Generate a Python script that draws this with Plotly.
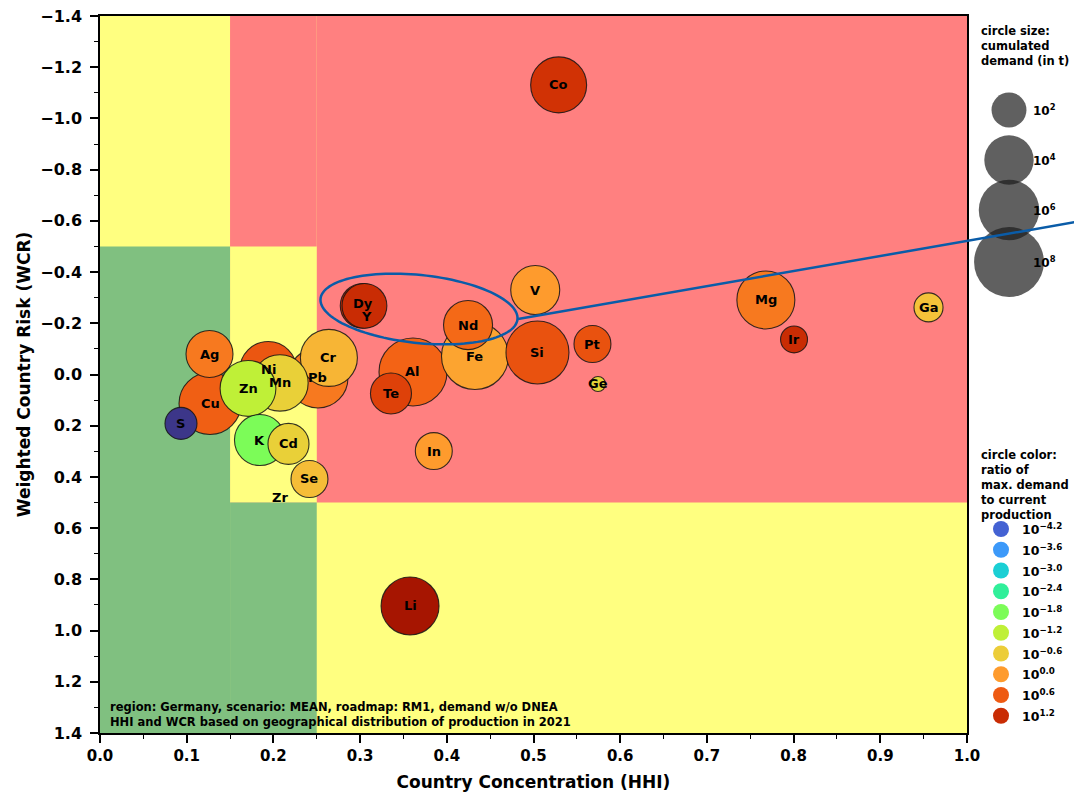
import numpy as np
import plotly.graph_objects as go

# ---------------------------------------------------------------------------
# Data: raw materials, their supply-risk coordinates, demand and demand ratio
# ---------------------------------------------------------------------------
elements = ["Co", "Dy", "Y", "V", "Nd", "Fe", "Si", "Pt", "Ge", "Al", "Te", "Mg",
            "Ir", "Ga", "Li", "In", "Ag", "Cu", "S", "Zn", "Mn", "Ni", "Pb", "Cr",
            "K", "Cd", "Se", "Zr"]
hhi = [0.529, 0.303, 0.305, 0.502, 0.4245, 0.4325, 0.5046, 0.568, 0.5744, 0.361,
       0.3356, 0.768, 0.8005, 0.9556, 0.3576, 0.385, 0.1263, 0.1269, 0.0934, 0.1707,
       0.2076, 0.194, 0.2514, 0.264, 0.1845, 0.2174, 0.2416, 0.2076]
wcr = [-1.131, -0.268, -0.268, -0.330, -0.193, -0.072, -0.086, -0.119, 0.037, -0.010,
       0.074, -0.291, -0.137, -0.262, 0.904, 0.299, -0.080, 0.113, 0.191, 0.0545,
       0.033, -0.018, 0.0135, -0.065, 0.256, 0.271, 0.408, 0.479]
# cumulated demand, log10 of tonnes
demand_log10 = [5.14, 3.3, 3.3, 3.94, 3.94, 7.36, 6.5, 2.24, 0.37, 7.58,
                2.76, 5.51, 1.19, 1.38, 5.51, 2.24, 3.62, 6.3, 1.68, 5.1,
                5.2, 5.3, 5.9, 5.33, 4.26, 2.76, 2.24, 0.0]
# ratio of max. demand to current production, log10
ratio_log10 = [1.1, 1.2, 1.2, 0.0, 0.45, -0.1, 0.7, 0.7, -0.7, 0.5,
               0.9, 0.3, 1.2, -0.45, 1.6, 0.0, 0.3, 0.55, -4.65, -1.2,
               -0.65, 0.65, 0.3, -0.3, -1.8, -0.65, -0.4, 0.0]

size_legend_exp = [2, 4, 6, 8]
color_legend_exp = [-4.2, -3.6, -3.0, -2.4, -1.8, -1.2, -0.6, 0.0, 0.6, 1.2]

x_ticks = [round(0.1 * i, 1) for i in range(11)]
y_ticks = [round(-1.4 + 0.2 * i, 1) for i in range(15)]

# ---------------------------------------------------------------------------
# Styling constants
# ---------------------------------------------------------------------------
W, H = 1074, 792
ML, MT, MB = 100, 16, 59
PW = 867                      # width of the main plotting area (px)
PH = H - MT - MB
FW = W - ML                   # width of the whole plot region incl. legend panel
X_RANGE = (0.0, 1.0)
Y_RANGE = (1.4, -1.4)         # risk axis runs downward
CMIN, CMAX = -5.0, 2.0
K_DIAM = 24.7                 # marker diameter = K * sqrt(log10 demand)

YELLOW, RED, GREEN = "#FFFF80", "#FF8080", "#80C080"
BLUE = "#0A5CA8"
FONT = "DejaVu Sans"


def diameter(logd):
    return K_DIAM * np.sqrt(np.asarray(logd, dtype=float))


def px_x(px):
    """horizontal pixel -> x data coordinate of the main axes"""
    return X_RANGE[0] + (px - ML) / PW * (X_RANGE[1] - X_RANGE[0])


def px_y(py):
    """vertical pixel -> y data coordinate of the main axes"""
    return Y_RANGE[1] + (py - MT) / PH * (Y_RANGE[0] - Y_RANGE[1])


def paper_x(px):
    return (px - ML) / FW


def paper_y(py):
    return (H - MB - py) / PH


fig = go.Figure()

# ---------------------------------------------------------------------------
# Risk zones
# ---------------------------------------------------------------------------
zones = [
    (0.0, 1.0, -1.4, 1.4, YELLOW),
    (0.15, 0.25, -1.4, 0.5, RED),
    (0.25, 1.0, -1.4, 0.5, RED),
    (0.15, 0.25, -0.5, 0.5, YELLOW),
    (0.0, 0.15, -0.5, 1.4, GREEN),
    (0.15, 0.25, 0.5, 1.4, GREEN),
]
for x0, x1, y0, y1, col in zones:
    fig.add_shape(type="rect", xref="x", yref="y", x0=x0, x1=x1, y0=y0, y1=y1,
                  fillcolor=col, line=dict(width=0), layer="below")

# ---------------------------------------------------------------------------
# Bubbles (large ones first so smaller ones stay visible)
# ---------------------------------------------------------------------------
d_all = diameter(demand_log10)
order = [i for i in np.argsort(-np.asarray(demand_log10), kind="stable") if d_all[i] > 0]
fig.add_trace(go.Scatter(
    x=[hhi[i] for i in order], y=[wcr[i] for i in order],
    mode="markers",
    marker=dict(size=[d_all[i] for i in order], sizemode="diameter",
                color=[ratio_log10[i] for i in order], colorscale="Turbo",
                cmin=CMIN, cmax=CMAX, showscale=False, opacity=1.0,
                line=dict(color="rgba(20,20,20,0.85)", width=1.1)),
    hoverinfo="skip", showlegend=False,
))

label_shift = {"Dy": (0, 2), "Y": (2, -11)}
for el, x, y in zip(elements, hhi, wcr):
    dx, dy = label_shift.get(el, (0, 0))
    fig.add_annotation(x=x, y=y, xref="x", yref="y", text=el, showarrow=False,
                       xshift=dx, yshift=dy,
                       font=dict(family=FONT, size=13, color="black", weight="bold"))

# ---------------------------------------------------------------------------
# Highlight around Dy / Y and pointer line
# ---------------------------------------------------------------------------
cx, cy = 419.0, 309.0              # centre (px)
a_px, b_px, tilt = 99.0, 34.0, np.deg2rad(6.0)
t = np.linspace(0, 2 * np.pi, 120)
ex = cx + a_px * np.cos(t) * np.cos(tilt) - b_px * np.sin(t) * np.sin(tilt)
ey = cy + a_px * np.cos(t) * np.sin(tilt) + b_px * np.sin(t) * np.cos(tilt)
path = "M " + " L ".join(f"{px_x(u):.5f},{px_y(v):.5f}" for u, v in zip(ex, ey)) + " Z"
fig.add_shape(type="path", xref="x", yref="y", path=path,
              line=dict(color=BLUE, width=2.5), fillcolor="rgba(0,0,0,0)")
fig.add_shape(type="line", xref="paper", yref="paper",
              x0=paper_x(518), y0=paper_y(319), x1=paper_x(1076), y1=paper_y(222),
              line=dict(color=BLUE, width=2.5))

# ---------------------------------------------------------------------------
# Legend panel (own pixel-scaled axes to the right of the plot)
# ---------------------------------------------------------------------------
size_leg_y = [110, 160, 210, 262]
fig.add_trace(go.Scatter(
    x=[1009] * len(size_legend_exp), y=size_leg_y, xaxis="x2", yaxis="y2",
    mode="markers",
    marker=dict(size=diameter(size_legend_exp), sizemode="diameter", opacity=1.0,
                color="rgba(28,28,28,0.7)", line=dict(width=0)),
    hoverinfo="skip", showlegend=False, cliponaxis=False,
))
for e, py in zip(size_legend_exp, size_leg_y):
    fig.add_annotation(x=paper_x(1031), y=paper_y(py), xref="paper", yref="paper",
                       xanchor="left", yanchor="middle", showarrow=False,
                       text=f"10<sup>{e}</sup>",
                       font=dict(family=FONT, size=12, color="black", weight="bold"))
fig.add_annotation(x=paper_x(979), y=paper_y(22), xref="paper", yref="paper",
                   xanchor="left", yanchor="top", align="left", showarrow=False,
                   text="circle size:<br>cumulated<br>demand (in t)",
                   font=dict(family=FONT, size=11.5, color="black", weight="bold"))

col_leg_y = [529 + 20.75 * i for i in range(len(color_legend_exp))]
fig.add_trace(go.Scatter(
    x=[1001] * len(color_legend_exp), y=col_leg_y, xaxis="x2", yaxis="y2",
    mode="markers",
    marker=dict(size=16, color=color_legend_exp, colorscale="Turbo", opacity=1.0,
                cmin=CMIN, cmax=CMAX, line=dict(width=0), showscale=False),
    hoverinfo="skip", showlegend=False, cliponaxis=False,
))
for e, py in zip(color_legend_exp, col_leg_y):
    lab = f"{e:.1f}".replace("-", "\u2212")
    fig.add_annotation(x=paper_x(1020), y=paper_y(py), xref="paper", yref="paper",
                       xanchor="left", yanchor="middle", showarrow=False,
                       text=f"10<sup>{lab}</sup>",
                       font=dict(family=FONT, size=12.5, color="black", weight="bold"))
fig.add_annotation(x=paper_x(979), y=paper_y(446), xref="paper", yref="paper",
                   xanchor="left", yanchor="top", align="left", showarrow=False,
                   text="circle color:<br>ratio of<br>max. demand<br>to current<br>production",
                   font=dict(family=FONT, size=11.5, color="black", weight="bold"))

# ---------------------------------------------------------------------------
# Scenario note
# ---------------------------------------------------------------------------
fig.add_annotation(x=paper_x(108), y=paper_y(698), xref="paper", yref="paper",
                   xanchor="left", yanchor="top", align="left", showarrow=False,
                   text="region: Germany, scenario: MEAN, roadmap: RM1, demand w/o DNEA<br>"
                        "HHI and WCR based on geographical distribution of production in 2021",
                   font=dict(family=FONT, size=11.5, color="black", weight="bold"))

# ---------------------------------------------------------------------------
# Axes & layout
# ---------------------------------------------------------------------------
main_dom = PW / FW
fig.update_layout(
    xaxis=dict(
        domain=[0, main_dom],
        range=list(X_RANGE), tickvals=x_ticks, ticktext=[f"{v:.1f}" for v in x_ticks],
        ticks="outside", ticklen=8, tickwidth=1.5, tickcolor="black",
        minor=dict(ticks="outside", ticklen=4, tickwidth=1, tickcolor="black",
                   dtick=0.05, tick0=0, showgrid=False),
        showline=True, linecolor="black", linewidth=1.5, mirror=True,
        showgrid=False, zeroline=False,
        tickfont=dict(family=FONT, size=15, color="black", weight="bold"),
        title=dict(text="Country Concentration (HHI)", standoff=13,
                   font=dict(family=FONT, size=17, color="black", weight="bold")),
    ),
    yaxis=dict(
        range=list(Y_RANGE), tickvals=y_ticks,
        ticktext=[f"{v:.1f}".replace("-", "\u2212") for v in y_ticks],
        ticks="outside", ticklen=8, tickwidth=1.5, tickcolor="black",
        minor=dict(ticks="outside", ticklen=4, tickwidth=1, tickcolor="black",
                   dtick=0.1, tick0=0, showgrid=False),
        showline=True, linecolor="black", linewidth=1.5, mirror=True,
        showgrid=False, zeroline=False, ticklabelstandoff=5,
        tickfont=dict(family=FONT, size=16, color="black", weight="bold"),
        title=dict(text="Weighted Country Risk (WCR)", standoff=5,
                   font=dict(family=FONT, size=17, color="black", weight="bold")),
    ),
    xaxis2=dict(domain=[main_dom, 1], range=[ML + PW, W], visible=False,
                fixedrange=True),
    yaxis2=dict(anchor="x2", range=[H - MB, MT], visible=False, fixedrange=True),
    width=W, height=H, autosize=False,
    margin=dict(l=ML, r=0, t=MT, b=MB, autoexpand=False),
    paper_bgcolor="white", plot_bgcolor="rgba(0,0,0,0)",
    showlegend=False,
)

fig.write_html("out.html")
